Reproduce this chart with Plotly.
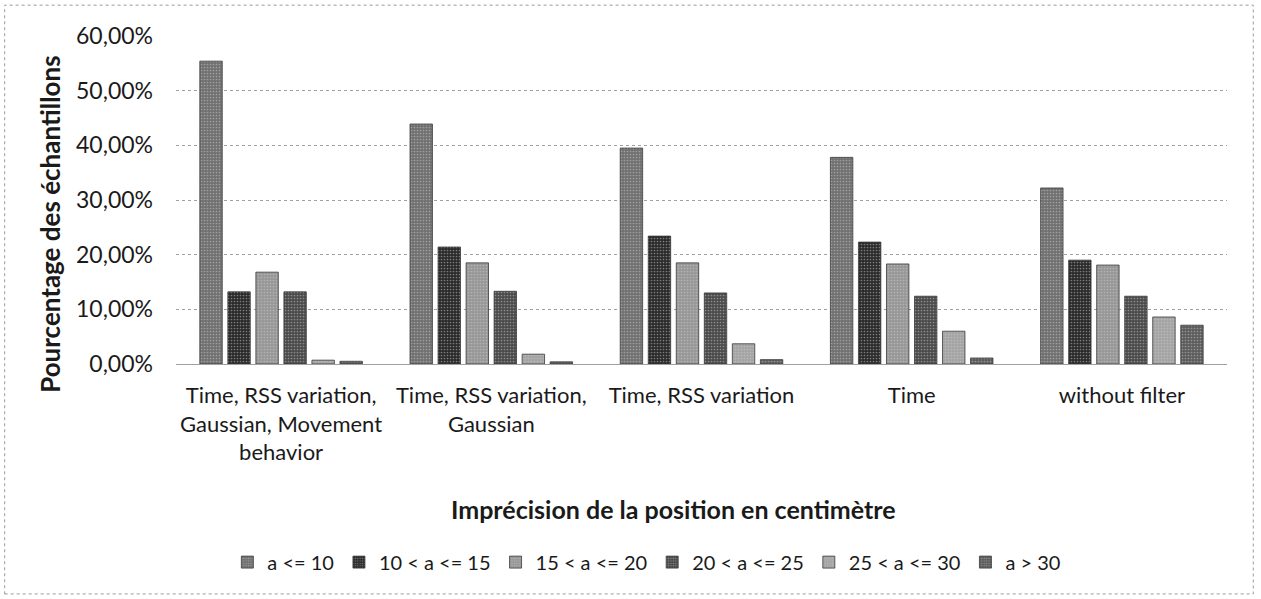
import plotly.graph_objects as go

# Filtering configurations compared
categories = [
    "Time, RSS variation,<br>Gaussian, Movement<br>behavior",
    "Time, RSS variation,<br>Gaussian",
    "Time, RSS variation",
    "Time",
    "without filter",
]

# Error classes (a = position error in cm)
series_names = ["a <= 10", "10 < a <= 15", "15 < a <= 20", "20 < a <= 25", "25 < a <= 30", "a > 30"]

# Share of samples (%) per class, one list per class across the configurations
s_le10 = [55.4, 43.9, 39.5, 37.8, 32.2]
s_10_15 = [13.2, 21.4, 23.4, 22.3, 19.0]
s_15_20 = [16.8, 18.5, 18.5, 18.3, 18.1]
s_20_25 = [13.2, 13.3, 13.0, 12.4, 12.4]
s_25_30 = [0.7, 1.8, 3.7, 6.0, 8.6]
s_gt30 = [0.5, 0.4, 0.8, 1.1, 7.1]

y_ticks = [0, 10, 20, 30, 40, 50, 60]
y_tick_labels = ["0,00%", "10,00%", "20,00%", "30,00%", "40,00%", "50,00%", "60,00%"]

series_values = [s_le10, s_10_15, s_15_20, s_20_25, s_25_30, s_gt30]
fills = ["#707070", "#2a2a2a", "#979797", "#4a4a4a", "#a4a4a4", "#5c5c5c"]

FONT = "Lato, Calibri, sans-serif"

fig = go.Figure()
for name, vals, col in zip(series_names, series_values, fills):
    fig.add_trace(go.Bar(
        x=categories, y=vals, name=name,
        marker=dict(color=col, line=dict(color="#3a3a3a", width=0.8),
                    pattern=dict(shape=".", fgcolor="#d0d0d0", size=3, solidity=0.25)),
    ))

fig.update_layout(
    width=1261, height=599,
    barmode="group", bargap=0.2, bargroupgap=0.2,
    paper_bgcolor="white", plot_bgcolor="white",
    margin=dict(l=176, r=34, t=36, b=235),
    font=dict(family=FONT, size=20, color="#1a1a1a"),
    showlegend=True,
    legend=dict(orientation="h", x=0.448, xanchor="center", y=-0.604, yanchor="middle",
                font=dict(size=20), itemwidth=30, traceorder="normal"),
    xaxis=dict(showgrid=False, showline=False, ticks="", tickfont=dict(size=22),
               ticklabelstandoff=16),
    yaxis=dict(range=[0, 60], tickvals=y_ticks, ticktext=y_tick_labels,
               showgrid=True, gridcolor="#a0a0a0", griddash="dot", gridwidth=1,
               zeroline=True, zerolinecolor="#a0a0a0", zerolinewidth=1,
               tickfont=dict(size=23), ticklabelstandoff=22),
    annotations=[
        dict(text="<b>Imprécision de la position en centimètre</b>", xref="paper", yref="paper",
             x=0.473, y=-0.442, xanchor="center", yanchor="middle", showarrow=False,
             font=dict(size=25)),
        dict(text="<b>Pourcentage des échantillons</b>", xref="paper", yref="paper",
             x=-0.12, y=0.427, xanchor="center", yanchor="middle", showarrow=False,
             textangle=-90, font=dict(size=26)),
    ],
    shapes=[dict(type="rect", xref="paper", yref="paper", x0=-0.163, x1=1.025, y0=-0.701, y1=1.094,
                 line=dict(color="#9a9a9a", width=1, dash="dot"))],
)

fig.write_html("out.html")
